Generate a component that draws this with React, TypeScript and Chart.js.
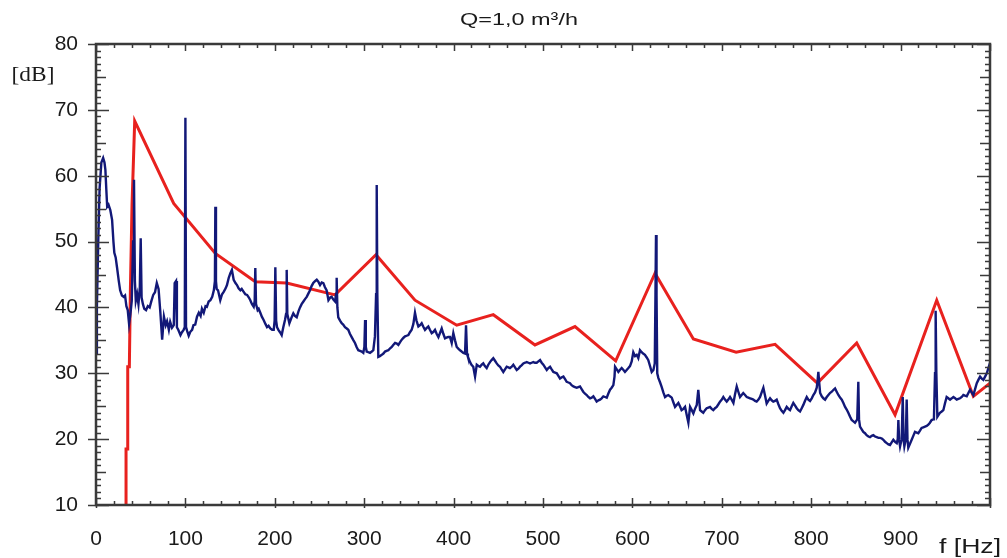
import React, { useEffect, useRef } from 'react';
import { Chart, registerables } from 'chart.js';

Chart.register(...registerables);

const chartTitle = 'Q=1,0 m³/h';
const yUnitLabel = '[dB]';
const xUnitLabel = 'f [Hz]';

const xTickValues = [0, 100, 200, 300, 400, 500, 600, 700, 800, 900];
const yTickValues = [10, 20, 30, 40, 50, 60, 70, 80];

// Measured spectrum (blue)
const spectrumFreq = [
  0, 1, 2.5, 4, 6, 8, 9.5, 10.5, 11.5, 12.5, 14, 16, 18, 19.5, 20.5, 22, 23.5, 25.5, 27, 29,
  31, 32.5, 34, 35.5, 37, 38.5, 40, 41.5, 42.5, 43.5, 44.5, 46, 47.5, 49, 50, 51, 52.5, 54, 56, 58,
  60, 62, 64, 66, 68, 70, 72, 74, 76, 78, 79.5, 81.5, 83, 85, 87, 88, 89.5, 90.5, 92, 94.5,
  96, 98, 99.3, 100, 100.7, 102, 103.7, 105.5, 107.5, 109, 111, 113, 115, 117, 118.5, 120.5, 122.5, 124, 126, 128,
  130, 131.8, 133, 133.5, 134.2, 135, 136.5, 139, 141, 143, 145, 146.5, 148.5, 150.3, 152, 154, 156, 157.7, 159.5, 161.5,
  163, 165, 167, 169, 171, 172.6, 174.5, 176.4, 177.5, 178.2, 179, 180.8, 182, 183.8, 185.5, 187.5, 189.5, 191.3, 193, 195,
  197, 198.8, 199.8, 200.6, 201.5, 202.5, 204, 206, 207.7, 209.5, 211.4, 212.6, 213.3, 214, 216.3, 218.5, 220.7, 222.5, 224.5, 226.5,
  228.2, 230, 232, 234, 235.7, 237.5, 239.4, 241, 243, 245, 246.9, 248.7, 250.6, 252.5, 254.3, 256, 258, 260, 262, 263.6,
  265.5, 267.4, 268.5, 269.2, 270, 271, 273, 274.8, 276.5, 278.5, 280.5, 282.2, 284, 286, 288, 289.7, 291.5, 293.4, 295.3, 297.2,
  299, 300.2, 301, 301.8, 302.8, 304.5, 306.5, 308.5, 310.2, 312, 313.3, 314, 314.7, 315.8, 317.5, 319.6, 321.5, 323.3, 325, 327,
  329, 330.8, 332.5, 334.5, 336.5, 338.2, 340, 342, 344, 345.7, 347.5, 349.4, 351, 353.1, 355, 356.8, 358.5, 360.6, 362.5, 364.3,
  366, 368, 370, 371.7, 373.5, 375.5, 377.5, 379.2, 381, 383, 385, 386.7, 388.5, 390.4, 392, 394, 396, 397.9, 399.7, 401.6,
  403.5, 405.5, 407.2, 409, 410.9, 412.8, 413.9, 415, 416, 418.4, 420, 422, 424, 425.9, 427.7, 429.5, 431.4, 433.2, 435, 437,
  438.8, 440.7, 442.5, 444.4, 446.3, 448.2, 450, 451.9, 453.7, 455.6, 457.5, 459.4, 461.2, 463, 465, 466.8, 468.7, 470.6, 472.5, 474.3,
  476, 478, 480, 481.8, 483.7, 485.5, 487.3, 489.2, 491, 493, 494.8, 496.7, 498.5, 500.4, 502.3, 504.2, 506, 507.9, 509.7, 511.6,
  513.5, 515.4, 517.2, 519, 521, 522.8, 524.7, 526.5, 528.4, 530.2, 532, 534, 535.8, 537.7, 539.5, 541.4, 543.2, 545, 547, 548.9,
  550.7, 552.6, 554.5, 556.3, 558.2, 560, 562, 563.8, 565.6, 567.5, 569.4, 571.3, 573, 575, 576.8, 578.7, 580, 580.6, 582.5, 584.3,
  586, 588, 590, 591.7, 593.6, 595.5, 597.3, 599.2, 601, 603, 604.8, 606.6, 608.5, 610.4, 612, 614, 616, 617.8, 619.7, 621.6,
  623.5, 625, 625.8, 626.4, 627, 627.8, 629, 631, 632.8, 634.6, 636.5, 638.4, 640.2, 642, 644, 645.8, 647.7, 649.5, 651.4, 653.2,
  655, 657, 658.9, 660.7, 662.6, 664.5, 666.4, 668.2, 670, 672, 673.7, 675.7, 677.5, 679.3, 681.2, 683.1, 685, 686.8, 688.7, 690.5,
  692.4, 694.3, 696.2, 698, 700, 701.7, 703.6, 705.5, 707.3, 709.2, 711, 713, 714.8, 716.7, 718.5, 720.4, 722.2, 724, 726, 727.9,
  729.7, 731.6, 733.5, 735.3, 737.2, 739, 741, 742.8, 744.6, 746.5, 748.4, 750.2, 752, 754, 755.8, 757.6, 759.5, 761.4, 763.3, 765.1,
  767, 768.9, 770.7, 772.6, 774.5, 776.3, 778.2, 780, 782, 783.8, 785.6, 787.5, 789.4, 791.2, 793, 795, 796.8, 798.7, 800.6, 802.4,
  804.3, 806.2, 807.2, 808, 809, 810, 811.8, 813.6, 815.5, 817.4, 819.2, 821, 823, 825, 826.7, 828.5, 830.4, 832.3, 834.2, 836,
  837.9, 839.7, 841.5, 843.5, 845.3, 847.2, 849, 851.5, 852.7, 853.5, 854.6, 856.5, 858.3, 860.2, 862, 864, 865.8, 867.7, 869.5, 871.4,
  873.3, 875.2, 877, 879, 880.7, 882.6, 884.5, 886.4, 888.2, 890, 891.9, 893.8, 895.7, 896.8, 897.5, 898.3, 899.4, 901.2, 902.4, 903.3,
  904.2, 905.8, 906.8, 907.7, 908.6, 910.5, 912.4, 914.2, 916.1, 918, 919.8, 921.7, 923.5, 925.4, 927.3, 929.2, 931, 932.8, 934.7, 936.5,
  937.3, 938.5, 939.2, 940, 941.1, 942.5, 944, 946, 947.8, 949.6, 951.5, 953.4, 955.3, 957.2, 959, 961, 962.8, 964.6, 966.5, 968.4,
  970.2, 972, 974, 975.8, 977.7, 979.5, 981.4, 983.3, 985.2, 987, 988.9, 990.8, 992.6, 994.5, 996.4, 998.2, 1000,
];
const spectrumLevel = [
  33, 40, 50, 58, 62, 62.7, 62, 60.9, 58, 55.3, 55.6, 54.8, 53.3, 50, 48.3, 47.6, 46.1, 44, 42.6, 41.8,
  41.6, 41.8, 40.2, 39.6, 37.5, 39, 41, 50, 59.4, 44, 41, 42, 40.5, 43, 50.5, 41.5, 40.5, 39.8, 39.6, 40.2,
  40, 41, 41.9, 42.3, 43.7, 42.8, 39.2, 35.1, 38.6, 37.3, 37.9, 36.6, 37.8, 36.9, 37.3, 43.7, 44, 37, 36.6, 35.8,
  36.2, 36.6, 37, 68.8, 37, 36.4, 35.7, 36.3, 36.6, 37.3, 37.4, 38.6, 39.2, 38.7, 39.8, 39.2, 40.2, 40.1, 40.9, 41.1,
  41.6, 42.6, 44, 55.3, 44, 42.8, 42.6, 41.1, 42, 42.4, 42.9, 43.4, 44.5, 45.2, 45.7, 44.2, 43.7, 43.4, 42.9, 42.6,
  42.8, 42.4, 42, 41.9, 41.5, 41.1, 40.5, 40.1, 41, 46, 40.5, 39.6, 39.8, 39.2, 38.6, 38.1, 37.5, 37, 37.2, 36.8,
  36.6, 36.6, 38, 46.1, 38, 37, 36.6, 36.2, 35.8, 37, 38.1, 39, 45.7, 39, 37.6, 38.4, 39.1, 38.7, 38.5, 39.4,
  40, 40.5, 40.9, 41.3, 41.6, 42.1, 42.6, 43.2, 43.7, 44, 44.2, 43.9, 43.4, 43.8, 43.7, 43.1, 42.6, 41.1, 41.5, 41.6,
  41.2, 40.9, 42, 44.5, 40, 38.5, 38, 37.6, 37.4, 37, 36.8, 36.6, 36, 35.5, 35, 34.6, 34, 33.5, 33.4, 33.3,
  33.1, 34, 38.1, 34, 33.3, 33.2, 33.1, 33.3, 33.5, 35.6, 42, 58.6, 42, 32.5, 32.6, 32.8, 33, 33.3, 33.4, 33.5,
  33.8, 34, 34.3, 34.6, 34.5, 34.3, 34.7, 35.1, 35.4, 35.6, 35.7, 35.8, 36.2, 36.6, 37.5, 39.2, 38, 37.1, 37.3, 37.6,
  37.1, 36.6, 36.9, 37.1, 36.6, 36.1, 36.3, 36.6, 36, 35.5, 36.2, 36.8, 36, 35.3, 35.4, 35.5, 35.5, 34.6, 36.1, 35,
  34, 33.7, 33.5, 33.3, 33.1, 33, 37.3, 33, 32.5, 31.7, 31.3, 31, 29.5, 31.3, 31.1, 31, 31.3, 31.5, 31.1, 30.8,
  31.3, 31.7, 32, 32.3, 31.9, 31.5, 31.2, 31, 30.6, 30.2, 30.6, 31, 30.9, 30.8, 31, 31.3, 30.9, 30.5, 30.7, 31,
  31.2, 31.5, 31.6, 31.7, 31.6, 31.5, 31.6, 31.7, 31.6, 31.6, 31.8, 32, 31.6, 31.3, 30.9, 30.5, 30.8, 31, 30.6, 30.2,
  30.1, 30, 29.6, 29.2, 29.4, 29.5, 29.1, 28.7, 28.6, 28.5, 28.2, 28, 27.9, 27.8, 27.9, 28, 27.6, 27.2, 26.9, 26.7,
  26.4, 26.2, 26.3, 26.5, 26.1, 25.7, 25.9, 26, 26.2, 26.5, 26.4, 26.3, 26.9, 27.5, 27.8, 28.2, 29.5, 31, 30.6, 30.2,
  30.5, 30.8, 30.5, 30.2, 30.5, 30.8, 31.1, 31.8, 33.2, 32.6, 32.8, 32.3, 33.5, 33.2, 33, 32.8, 32.4, 32, 31.1, 30.2,
  30.5, 31.5, 42, 51, 42, 30, 29.3, 28.6, 27.9, 27.1, 26.4, 26.6, 26.7, 26.5, 26.3, 25.6, 24.9, 25.2, 25.5, 25,
  24.4, 24.6, 24.9, 23.7, 22.5, 24.9, 24.4, 23.9, 24.6, 25.2, 27.5, 24.4, 24.2, 24, 24.4, 24.7, 24.8, 24.9, 24.6, 24.4,
  24.7, 24.9, 25.3, 25.7, 26, 26.4, 26, 25.7, 26, 26.4, 26, 25.5, 26.8, 28, 27.2, 26.4, 26.7, 27, 26.7, 26.4,
  26.3, 26.2, 26.1, 26, 25.8, 25.7, 26, 26.4, 27.1, 27.8, 26.6, 25.4, 25.8, 26.2, 25.9, 25.7, 25.8, 26, 25.3, 24.7,
  24.3, 24, 24.4, 24.9, 24.6, 24.4, 25, 25.5, 25.1, 24.7, 24.4, 24.2, 24.7, 25.2, 25.8, 26.4, 26, 25.8, 26.2, 26.7,
  27.1, 27.8, 29, 30.2, 28.5, 27, 26.5, 26.2, 26, 26.4, 26.7, 27, 27.2, 27.5, 27.7, 27.2, 26.7, 26.3, 26, 25.5,
  24.9, 24.5, 24, 23.4, 22.9, 22.7, 22.5, 23, 28.7, 23, 21.9, 21.5, 21.1, 20.9, 20.6, 20.4, 20.3, 20.5, 20.6, 20.4,
  20.3, 20.2, 20.2, 20.1, 19.9, 19.6, 19.4, 19.2, 19.1, 19.5, 19.9, 19.6, 19.4, 20, 22.9, 20, 18.9, 20, 26.4, 20,
  18.9, 20, 26, 20, 18.7, 19.3, 19.9, 20.5, 21.1, 21, 20.9, 21.3, 21.7, 21.8, 21.9, 22, 22.2, 22.5, 22.9, 23,
  23.2, 30, 39.5, 30, 23.4, 23.7, 24, 24.2, 24.4, 25.4, 26.4, 26.2, 26, 26.2, 26.4, 26.2, 26, 26.1, 26.2, 26.4,
  26.7, 26.6, 26.5, 27, 27.5, 27.1, 26.7, 27.6, 28.5, 29, 29.5, 29.2, 29, 29.5, 30, 30.8, 31.6,
];

// Limit curve (red)
const limitFreq = [
  33.6, 33.6, 35.5, 35.5, 37.3, 38.5, 40.3, 43.3, 86.9, 133.5, 178.2, 213.3, 267.4, 313.2,
  356.8, 403.5, 444.4, 491, 535.8, 581.3, 625.3, 668.2, 716, 759.6, 806.9, 850.9, 893.8, 940.4, 981.4, 1000,
];
const limitLevel = [
  10, 18.5, 18.5, 31, 31, 43, 55.6, 68.3, 55.8, 48.2, 43.9, 43.7, 41.9, 48,
  41.1, 37.3, 38.9, 34.3, 37.1, 31.9, 45.2, 35.2, 33.2, 34.4, 28.5, 34.6, 23.7, 41.1, 26.5, 28.5,
];

const FRAME = '#3a3a3a';
const TEXT = '#1a1a1a';
const SANS = '"Liberation Sans", Arial, sans-serif';
const SERIF = '"Liberation Serif", "Times New Roman", serif';

function stretchedText(ctx: CanvasRenderingContext2D, text: string, cx: number, cy: number, font: string, sx: number) {
  ctx.save();
  ctx.translate(cx, cy);
  ctx.scale(sx, 1);
  ctx.font = font;
  ctx.fillStyle = TEXT;
  ctx.textAlign = 'center';
  ctx.textBaseline = 'middle';
  ctx.fillText(text, 0, 0);
  ctx.restore();
}

const framePlugin = {
  id: 'frameTicks',
  afterDraw(chart: any) {
    const { ctx, chartArea: a, scales } = chart;
    const xs = scales.x;
    const ys = scales.y;
    ctx.save();
    ctx.strokeStyle = FRAME;
    ctx.lineWidth = 1.5;
    ctx.beginPath();
    for (let v = 10; v <= 80; v += 1) {
      const py = Math.round(ys.getPixelForValue(v)) + 0.5;
      const major = v % 10 === 0;
      const mid = v % 5 === 0;
      const len = major ? 13 : mid ? 10 : 5;
      ctx.moveTo(a.left - (major ? 8 : 0), py);
      ctx.lineTo(a.left + len, py);
      ctx.moveTo(a.right - len, py);
      ctx.lineTo(a.right, py);
    }
    for (let v = 0; v <= 1000; v += 20) {
      const px = Math.round(xs.getPixelForValue(v)) + 0.5;
      const major = v % 100 === 0;
      const len = major ? 7 : 4;
      ctx.moveTo(px, a.bottom + (major ? 3 : 0));
      ctx.lineTo(px, a.bottom - len);
      ctx.moveTo(px, a.top);
      ctx.lineTo(px, a.top + len);
    }
    ctx.stroke();
    ctx.lineWidth = 2.5;
    ctx.strokeRect(a.left, a.top, a.right - a.left, a.bottom - a.top);
    ctx.restore();

    stretchedText(ctx, chartTitle, 519, 20, `17px ${SANS}`, 1.38);
    stretchedText(ctx, yUnitLabel, 33, 76, `20px ${SERIF}`, 1.17);
    stretchedText(ctx, xUnitLabel, 970, 547, `20px ${SANS}`, 1.33);
  },
};

export default function App() {
  const canvasRef = useRef<HTMLCanvasElement | null>(null);

  useEffect(() => {
    document.body.style.margin = '0';
    const canvas = canvasRef.current;
    if (!canvas) return;
    const chart = new Chart(canvas, {
      type: 'line',
      data: {
        datasets: [
          {
            label: 'spectrum',
            data: spectrumFreq.map((f, i) => ({ x: f, y: spectrumLevel[i] })),
            borderColor: '#121878',
            borderWidth: 2.4,
            pointRadius: 0,
            tension: 0,
            fill: false,
          },
          {
            label: 'limit',
            data: limitFreq.map((f, i) => ({ x: f, y: limitLevel[i] })),
            borderColor: '#e8211e',
            borderWidth: 3,
            pointRadius: 0,
            tension: 0,
            fill: false,
          },
        ],
      },
      options: {
        animation: false,
        responsive: false,
        maintainAspectRatio: false,
        layout: { padding: { top: 44, right: 17, left: 0, bottom: 0 } },
        plugins: { legend: { display: false }, title: { display: false }, tooltip: { enabled: false } },
        scales: {
          x: {
            type: 'linear',
            min: 0,
            max: 1000,
            grid: { display: false, drawTicks: false },
            border: { display: false },
            afterBuildTicks: (s: any) => {
              s.ticks = xTickValues.map((v) => ({ value: v }));
            },
            afterFit: (s: any) => {
              s.height = 53;
            },
            ticks: {
              padding: 22,
              autoSkip: false,
              maxRotation: 0,
              color: TEXT,
              font: { family: SANS, size: 21 },
              callback: (v: any) => String(v),
            },
          },
          y: {
            type: 'linear',
            min: 10,
            max: 80,
            grid: { display: false, drawTicks: false },
            border: { display: false },
            afterBuildTicks: (s: any) => {
              s.ticks = yTickValues.map((v) => ({ value: v }));
            },
            afterFit: (s: any) => {
              s.width = 96;
            },
            ticks: {
              padding: 18,
              color: TEXT,
              font: { family: SANS, size: 21 },
              callback: (v: any) => String(v),
            },
          },
        },
      },
      plugins: [framePlugin],
    });
    return () => chart.destroy();
  }, []);

  return (
    <div style={{ width: 1007, height: 558, background: '#fff' }}>
      <canvas ref={canvasRef} width={1007} height={558} style={{ display: 'block' }} />
    </div>
  );
}
